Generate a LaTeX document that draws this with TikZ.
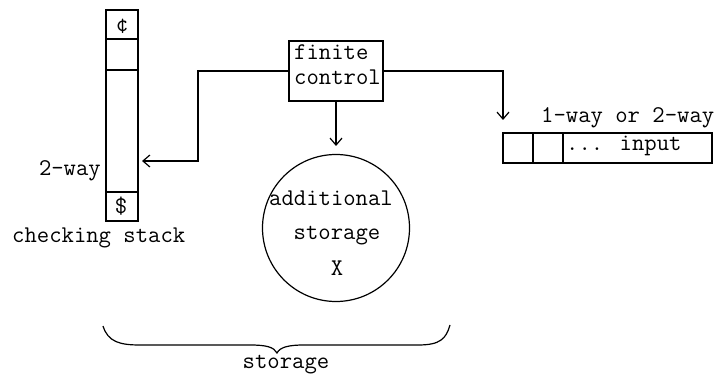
\documentclass[tikz,border=0pt]{standalone}
\usepackage{fontspec}
\usetikzlibrary{arrows.meta}
\begin{document}
\begin{tikzpicture}[x=1pt,y=-1pt,
  every node/.style={font=\ttfamily\fontsize{24}{25}\selectfont, inner sep=0pt},
  line/.style={line width=1.2pt},
  box/.style={draw, line width=1.2pt, rectangle},
  arr/.style={line width=1.2pt, -{Straight Barb[length=7pt,width=12pt,line width=1.2pt]}},
  lbl/.style={anchor=base}]
\useasboundingbox (0,0) rectangle (718,377);

% checking stack with its end markers
\node[box, minimum width=32pt, minimum height=211pt] (stack) at (122,115.5) {};
\node[box, minimum width=32pt, minimum height=29pt] (cent) at (122,24.5) {};
\node[lbl] at (122,32) {¢};
\node[box, minimum width=32pt, minimum height=29pt] (dollar) at (122,206.5) {};
\node[lbl] at (121,213) {\$};
\coordinate (s1) at (106,70);
\coordinate (s2) at (138,70);
\draw[line] (s1) -- (s2);
\node[anchor=base east] (way2) at (101,176) {2-way};
\node[anchor=base west] (cstack) at (12,242) {checking stack};

% finite control
\node[box, minimum width=94pt, minimum height=60pt] (fc) at (336,71) {};
\node[anchor=base west] (fin) at (294,60) {finite};
\node[anchor=base west] (ctl) at (294,85) {control};

% additional storage
\node[draw, circle, line width=1.2pt, minimum size=147pt] (st) at (336,228) {};
\node[lbl] (t1) at (331,206) {additional};
\node[lbl] (t2) at (337,240) {storage};
\node[lbl] (t3) at (337,275) {X};

% input tape
\node[box, minimum width=209pt, minimum height=30pt] (tape) at (607.5,148) {};
\coordinate (d1a) at (533,133);
\coordinate (d1b) at (533,163);
\coordinate (d2a) at (563,133);
\coordinate (d2b) at (563,163);
\draw[line] (d1a) -- (d1b) (d2a) -- (d2b);
\node[anchor=base west] (inp) at (566,151) {... input};
\node[anchor=base west] (way12) at (541,123) {1-way or 2-way};

% connectors
\coordinate (bl) at (198,161);
\coordinate (tipL) at (142,161);
\coordinate (tipM) at (336,146);
\coordinate (tipR) at (503,120);
\draw[arr] (fc.west) -| (bl) -- (tipL);
\draw[arr] (fc.south) -- (tipM);
\draw[arr] (fc.east) -| (tipR);

% brace under the storage
\coordinate (bra) at (103,326);
\coordinate (brm) at (277,353);
\coordinate (brb) at (450,325);
\draw[line] (bra) .. controls (108,342) and (120,345) .. (140,345) -- (250,345)
  .. controls (266,345) and (274,347) .. (brm)
  .. controls (280,347) and (289,345) .. (304,345) -- (418,345)
  .. controls (440,345) and (446,339) .. (brb);
\node[lbl] (stor) at (286,368) {storage};
\end{tikzpicture}
\end{document}
